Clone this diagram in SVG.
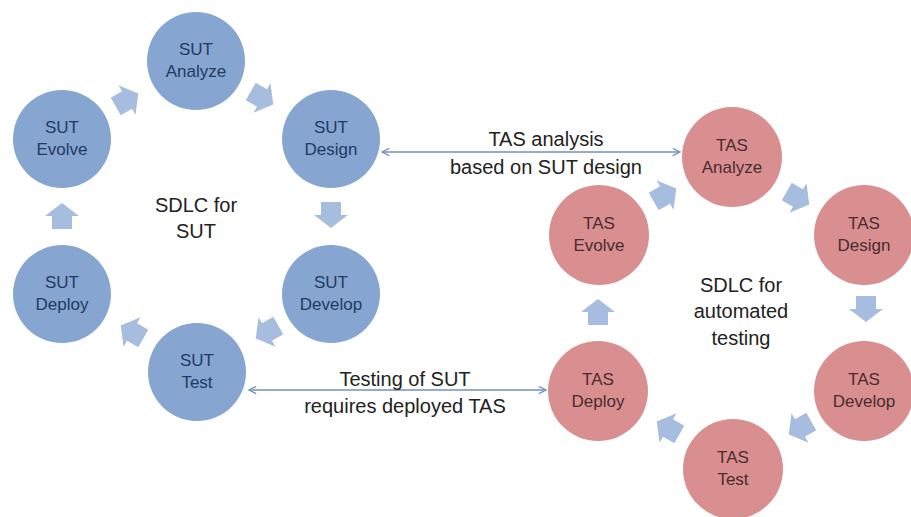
<svg xmlns="http://www.w3.org/2000/svg" width="911" height="517" viewBox="0 0 911 517">
<style>
.sut{fill:#86a5d0}
.tas{fill:#d98f8f}
.lb{font-family:"Liberation Sans",Arial,sans-serif;font-size:17px;text-anchor:middle}
.ls{fill:#1f3b63}
.lt{fill:#4a2c30}
.cap{font-family:"Liberation Sans",Arial,sans-serif;font-size:20px;text-anchor:middle;fill:#222}
.blk{fill:#a7bde0}
.con{stroke:#7391bd;stroke-width:1.4;fill:none}
</style>
<defs>
<path id="ba" d="M-13,-10 H0 V-17 L13,0 L0,17 V10 H-13 Z"/>
<marker id="oa" viewBox="0 0 10 10" refX="9" refY="5" markerWidth="9" markerHeight="9" markerUnits="userSpaceOnUse" orient="auto-start-reverse">
<path d="M1,1 L9,5 L1,9" fill="none" stroke="#7391bd" stroke-width="1.4"/>
</marker>
</defs>
<rect width="911" height="517" fill="#fff"/>

<g id="cycle-arrows" class="blk">
<use href="#ba" transform="translate(127,100) rotate(-30)"/>
<use href="#ba" transform="translate(262,98) rotate(30)"/>
<use href="#ba" transform="translate(331,215) rotate(90)"/>
<use href="#ba" transform="translate(267,332) rotate(150)"/>
<use href="#ba" transform="translate(132,332) rotate(210)"/>
<use href="#ba" transform="translate(62,216) rotate(-90)"/>
<use href="#ba" transform="translate(665,195) rotate(-30)"/>
<use href="#ba" transform="translate(798,198) rotate(30)"/>
<use href="#ba" transform="translate(866,309) rotate(90)"/>
<use href="#ba" transform="translate(800,428) rotate(150)"/>
<use href="#ba" transform="translate(668,428) rotate(210)"/>
<use href="#ba" transform="translate(598,312) rotate(-90)"/>
</g>

<g id="connectors">
<line class="con" x1="382" y1="152" x2="680" y2="152" marker-start="url(#oa)" marker-end="url(#oa)"/>
<line class="con" x1="249" y1="390" x2="546" y2="390" marker-start="url(#oa)" marker-end="url(#oa)"/>
</g>

<g id="sut-analyze"><circle class="sut" cx="196" cy="61" r="49"/><text class="lb ls" x="196" y="55">SUT</text><text class="lb ls" x="196" y="77">Analyze</text></g>
<g id="sut-design"><circle class="sut" cx="331" cy="139" r="49"/><text class="lb ls" x="331" y="133">SUT</text><text class="lb ls" x="331" y="155">Design</text></g>
<g id="sut-develop"><circle class="sut" cx="331" cy="294" r="49"/><text class="lb ls" x="331" y="288">SUT</text><text class="lb ls" x="331" y="310">Develop</text></g>
<g id="sut-test"><circle class="sut" cx="197" cy="372" r="49"/><text class="lb ls" x="197" y="366">SUT</text><text class="lb ls" x="197" y="388">Test</text></g>
<g id="sut-deploy"><circle class="sut" cx="62" cy="294" r="49"/><text class="lb ls" x="62" y="288">SUT</text><text class="lb ls" x="62" y="310">Deploy</text></g>
<g id="sut-evolve"><circle class="sut" cx="62" cy="139" r="49"/><text class="lb ls" x="62" y="133">SUT</text><text class="lb ls" x="62" y="155">Evolve</text></g>

<g id="tas-analyze"><circle class="tas" cx="732" cy="157" r="50"/><text class="lb lt" x="732" y="151">TAS</text><text class="lb lt" x="732" y="173">Analyze</text></g>
<g id="tas-design"><circle class="tas" cx="864" cy="235" r="50"/><text class="lb lt" x="864" y="229">TAS</text><text class="lb lt" x="864" y="251">Design</text></g>
<g id="tas-develop"><circle class="tas" cx="864" cy="391" r="50"/><text class="lb lt" x="864" y="385">TAS</text><text class="lb lt" x="864" y="407">Develop</text></g>
<g id="tas-test"><circle class="tas" cx="733" cy="469" r="50"/><text class="lb lt" x="733" y="463">TAS</text><text class="lb lt" x="733" y="485">Test</text></g>
<g id="tas-deploy"><circle class="tas" cx="598" cy="391" r="50"/><text class="lb lt" x="598" y="385">TAS</text><text class="lb lt" x="598" y="407">Deploy</text></g>
<g id="tas-evolve"><circle class="tas" cx="599" cy="235" r="50"/><text class="lb lt" x="599" y="229">TAS</text><text class="lb lt" x="599" y="251">Evolve</text></g>

<g id="labels">
<text class="cap" x="546" y="146">TAS analysis</text>
<text class="cap" x="546" y="174">based on SUT design</text>
<text class="cap" x="405" y="386">Testing of SUT</text>
<text class="cap" x="405" y="413">requires deployed TAS</text>
<text class="cap" x="196" y="212">SDLC for</text>
<text class="cap" x="196" y="238">SUT</text>
<text class="cap" x="741" y="292">SDLC for</text>
<text class="cap" x="741" y="318">automated</text>
<text class="cap" x="741" y="345">testing</text>
</g>
</svg>
